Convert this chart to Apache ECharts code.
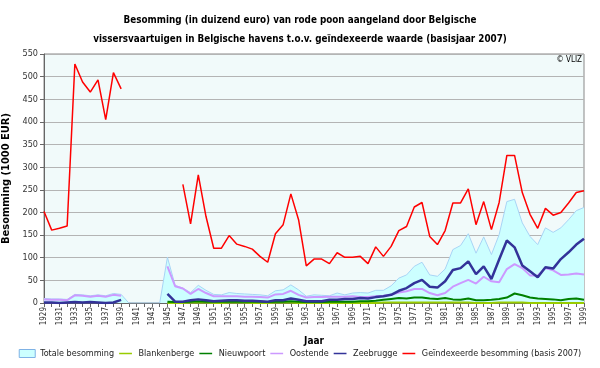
<!DOCTYPE html>
<html>
<head>
<meta charset="utf-8">
<script src="https://cdn.jsdelivr.net/npm/echarts@6/dist/echarts.min.js"></script>
<style>html,body{margin:0;padding:0;background:#fff}#c{width:600px;height:368px}</style>
</head>
<body>
<div id="c"></div>
<script>
var years = [];
for (var y = 1929; y <= 1999; y++) years.push(String(y));

var totaal = [10,9,9,8,19,18,16,18,16,21,19,
  0,0,0,0,0,
  101,39,33,23,39,28,19,18,23,21,20,19,18,16,27,29,40,29,15,18,17,16,22,18,22,23,22,28,28,38,55,62,81,90,62,59,75,118,127,153,110,146,107,151,224,229,177,147,129,166,156,166,184,204,211];

var blankenberge = [null,null,null,null,null,null,null,null,null,null,null,
  null,null,null,null,null,
  0,0,0,1,1,1,0,0,1,1,1,0,0,0,1,1,1,0,0,0,0,0,0,0,0,0,0,0,1,1,1,1,1,1,1,1,1,1,1,1,0,0,0,1,1,1,1,0,0,0,0,0,0,0,0];

var nieuwpoort = [null,null,null,null,null,null,null,null,null,null,null,
  null,null,null,null,null,
  3,2,2,3,4,3,3,3,3,3,3,3,3,2,3,3,4,3,2,2,2,3,3,3,3,4,4,5,7,9,11,10,12,12,10,9,11,8,7,10,6,6,7,9,12,21,17,12,10,9,8,6,9,10,7];

var oostende = [8,7,7,6,17,16,14,16,14,18,16,
  null,null,null,null,null,
  81,37,32,20,31,22,15,15,15,15,14,14,13,12,19,20,27,18,12,13,13,14,14,14,15,13,13,15,16,18,23,26,31,31,22,17,22,36,44,51,43,58,48,46,75,86,77,61,61,77,72,62,63,65,63];

var zeebrugge = [1,1,0,1,2,1,2,1,0,1,7,
  null,null,null,null,null,
  20,3,3,6,8,6,4,5,6,6,5,5,4,3,6,6,10,7,4,4,4,7,7,9,9,11,10,13,15,18,27,33,44,51,36,34,48,73,77,92,64,81,53,96,138,123,83,70,57,79,76,97,112,129,142];

var geindexeerd = [202,161,165,170,528,488,466,493,405,509,473,
  null,null,null,null,null,null,null,
  262,175,283,191,121,121,149,130,125,119,103,90,153,173,241,184,82,97,97,87,111,101,101,103,87,124,103,125,160,169,212,222,147,129,160,221,221,252,173,224,162,222,326,326,244,196,165,209,194,200,221,244,248];

var FONT = "'DejaVu Sans Condensed','DejaVu Sans',sans-serif";
var LINE_ICON = 'path://M0,0L0.01,0M0,4h16v2h-16zM0,10L0.01,10';
var chart = echarts.init(document.getElementById('c'), null, {renderer: 'canvas'});
function lineSeries(name, data, color, width, z) {
  return {name: name, type: 'line', data: data, symbol: 'none', showSymbol: false,
    lineStyle: {color: color, width: width}, itemStyle: {color: color}, z: z,
    connectNulls: false, animation: false};
}
chart.setOption({
  animation: false,
  textStyle: {fontFamily: FONT},
  title: {
    text: 'Besomming (in duizend euro) van rode poon aangeland door Belgische\nvissersvaartuigen in Belgische havens t.o.v. geïndexeerde waarde (basisjaar 2007)',
    left: 'center', top: 6,
    textStyle: {fontFamily: FONT, fontSize: 9.8, fontWeight: 'bold', color: '#000', lineHeight: 19}
  },
  graphic: [
    {type: 'text', right: 18, top: 56, style: {text: '© VLIZ', font: '8px ' + FONT, fill: '#000'}}
  ],
  grid: {left: 44, right: 16, top: 54, bottom: 65, show: true, backgroundColor: '#f1fafa', borderColor: '#888', borderWidth: 1, outerBoundsMode: 'none', containLabel: false},
  legend: {
    bottom: 5, left: 'center', itemWidth: 16, itemHeight: 8, itemGap: 5,
    textStyle: {fontFamily: FONT, fontSize: 9, color: '#222'},
    data: [
      {name: 'Totale besomming', icon: 'rect', itemStyle: {color: '#ccffff', borderColor: '#7fb2e5', borderWidth: 1}},
      {name: 'Blankenberge', icon: LINE_ICON},
      {name: 'Nieuwpoort', icon: LINE_ICON},
      {name: 'Oostende', icon: LINE_ICON},
      {name: 'Zeebrugge', icon: LINE_ICON},
      {name: 'Geïndexeerde besomming (basis 2007)', icon: LINE_ICON}
    ]
  },
  xAxis: {
    type: 'category', data: years, boundaryGap: false,
    name: 'Jaar', nameLocation: 'middle', nameGap: 33,
    nameTextStyle: {fontFamily: FONT, fontSize: 10, fontWeight: 'bold', color: '#000'},
    axisLine: {lineStyle: {color: '#666'}},
    axisTick: {interval: 0, length: 4, lineStyle: {color: '#666'}},
    axisLabel: {interval: 1, rotate: 90, fontSize: 8, color: '#333', margin: 4, fontFamily: FONT},
    splitLine: {show: false}
  },
  yAxis: {
    type: 'value', min: 0, max: 550, interval: 50,
    name: 'Besomming (1000 EUR)', nameLocation: 'middle', nameGap: 25,
    nameTextStyle: {fontFamily: FONT, fontSize: 11, fontWeight: 'bold', color: '#000'},
    axisLine: {show: true, lineStyle: {color: '#666'}},
    axisTick: {show: true, length: 4, lineStyle: {color: '#666'}},
    axisLabel: {fontSize: 9, color: '#333', margin: 6, fontFamily: FONT},
    splitLine: {lineStyle: {color: '#b4b4b4', width: 1}}
  },
  series: [
    {name: 'Totale besomming', type: 'line', data: totaal, symbol: 'none', showSymbol: false,
      lineStyle: {color: '#a8d4f5', width: 1}, itemStyle: {color: '#ccffff'},
      areaStyle: {color: '#ccffff', opacity: 1}, z: 1},
    lineSeries('Blankenberge', blankenberge, '#99cc00', 2, 2),
    lineSeries('Nieuwpoort', nieuwpoort, '#008000', 2, 3),
    lineSeries('Oostende', oostende, '#cc99ff', 2, 4),
    lineSeries('Zeebrugge', zeebrugge, '#333399', 2.5, 5),
    lineSeries('Geïndexeerde besomming (basis 2007)', geindexeerd, '#ff0000', 1.5, 6)
  ]
});
</script>
</body>
</html>
